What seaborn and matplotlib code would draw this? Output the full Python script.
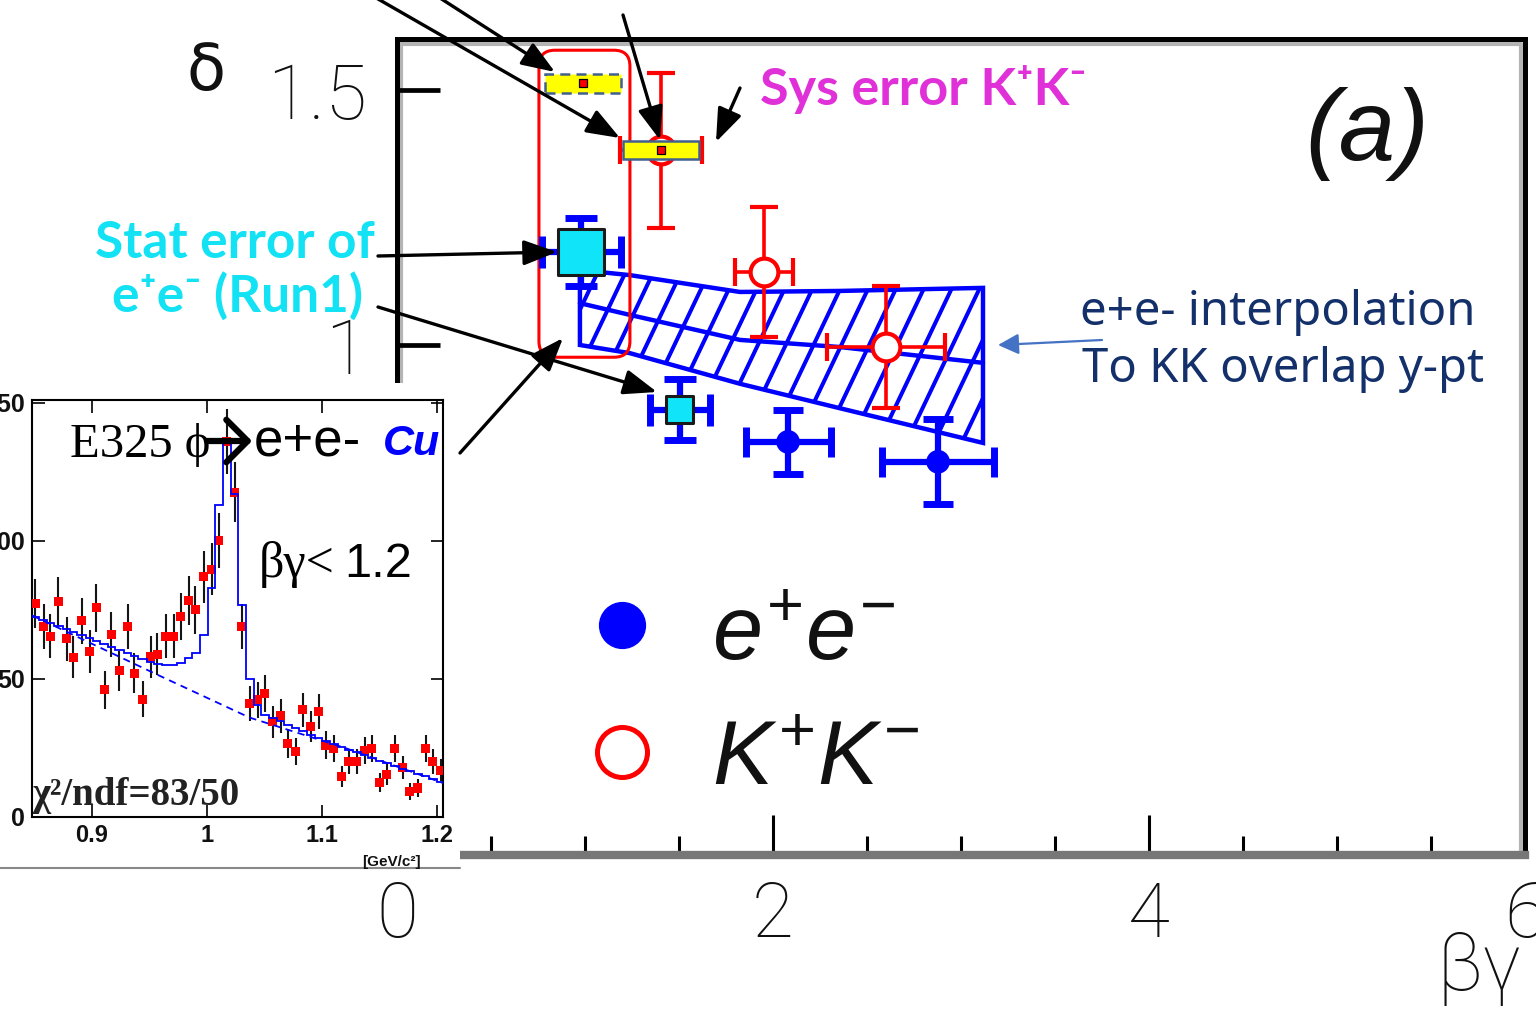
import numpy as np
import matplotlib
matplotlib.use("Agg")
import matplotlib.pyplot as plt
from matplotlib.patches import Rectangle, Polygon, FancyBboxPatch, FancyArrowPatch
from matplotlib.lines import Line2D
from matplotlib.transforms import IdentityTransform
import seaborn as sns

# ---------------- data ----------------
# main panel: delta vs beta*gamma
ee_bg = [2.080, 2.878]
ee_delta = [0.810, 0.771]
ee_xerr = [0.226, 0.298]
ee_yerr = [0.062, 0.083]

kk_bg = [1.404, 1.952, 2.601]
kk_delta = [1.382, 1.143, 0.996]
kk_xerr = [0.218, 0.154, 0.314]
kk_yerr = [0.152, 0.128, 0.120]

run1_bg = [0.979, 1.505]
run1_delta = [1.182, 0.873]
run1_xerr = [0.210, 0.160]
run1_yerr = [0.067, 0.060]

sys_bg = [0.989, 1.404]
sys_delta = [1.513, 1.382]
sys_xerr = [0.202, 0.202]
sys_yerr = [0.019, 0.018]

band_bg = [0.973, 1.239, 1.824, 2.356, 3.117]
band_hi = [1.147, 1.137, 1.104, 1.106, 1.112]
band_mid = [1.082, 1.059, 1.010, 0.996, 0.965]
band_lo = [1.000, 0.984, 0.924, 0.876, 0.808]

x_major = [0, 2, 4, 6]
x_major_labels = ['0', '2', '4', '6']
x_minor = [0.5, 1, 1.5, 2.5, 3, 3.5, 4.5, 5, 5.5]
y_major = [0.5, 1.0, 1.5]
y_major_labels = ['0.5', '1', '1.5']

# inset: phi -> e+e- invariant mass spectrum
phi_mass = [0.851, 0.858, 0.864, 0.871, 0.878, 0.884, 0.891, 0.898, 0.904, 0.911,
            0.917, 0.924, 0.931, 0.937, 0.944, 0.951, 0.957, 0.964, 0.971, 0.977,
            0.984, 0.990, 0.997, 1.004, 1.010, 1.017, 1.024, 1.030, 1.037, 1.044,
            1.050, 1.057, 1.064, 1.070, 1.077, 1.083, 1.090, 1.097, 1.103, 1.110,
            1.117, 1.123, 1.130, 1.137, 1.143, 1.150, 1.156, 1.163, 1.170, 1.176,
            1.183, 1.190, 1.196, 1.203]
phi_counts = [77.3, 69.0, 65.5, 78.0, 64.5, 57.8, 71.0, 60.0, 75.8, 46.0,
              66.0, 53.0, 69.0, 52.0, 42.7, 58.0, 59.0, 65.5, 65.5, 72.7,
              78.4, 75.0, 87.0, 89.7, 100.0, 136.0, 117.6, 69.0, 41.0, 42.4,
              44.8, 34.5, 36.6, 26.7, 23.6, 38.8, 32.7, 38.2, 26.0, 24.8,
              14.5, 20.0, 20.0, 24.0, 24.8, 12.4, 15.4, 24.8, 17.8, 9.3,
              10.5, 24.8, 20.0, 17.0]
phi_fit = [72.5, 71.4, 70.3, 69.2, 68.1, 67.0, 65.9, 64.8, 63.7, 62.6,
           61.5, 60.4, 59.3, 58.2, 57.1, 56.2, 55.4, 55.2, 55.2, 55.6,
           57.6, 59.4, 66.0, 83.0, 113.0, 136.0, 117.0, 76.6, 50.0, 40.6,
           37.0, 35.8, 34.6, 33.4, 32.2, 31.0, 29.8, 28.7, 27.6, 26.5,
           25.4, 24.4, 23.4, 22.4, 21.4, 20.4, 19.4, 18.5, 17.5, 16.6,
           15.6, 14.7, 13.7, 12.8]
bkg_mass = [0.848, 0.957, 1.037, 1.120, 1.205]
bkg_counts = [73.0, 51.5, 36.0, 25.0, 12.3]
inset_xticks = [0.9, 1.0, 1.1, 1.2]
inset_xlabels = ['0.9', '1', '1.1', '1.2']
inset_yticks = [0, 50, 100, 150]
inset_ylabels = ['0', '50', '100', '150']

# ---------------- style ----------------
sns.set_theme(style="white")
plt.rcParams['font.family'] = ['DejaVu Sans']
plt.rcParams['mathtext.fontset'] = 'custom'
plt.rcParams['mathtext.it'] = 'Liberation Sans:italic'
plt.rcParams['mathtext.rm'] = 'Liberation Sans'
plt.rcParams['mathtext.bf'] = 'Liberation Sans:bold'

W, H = 1536, 1017
fig = plt.figure(figsize=(W / 100, H / 100), dpi=100)
fig.patch.set_facecolor('white')


def P(x, y):
    """top-left pixel position -> display pixels"""
    return (x, H - y)


# ---------------- main axes ----------------
ax = fig.add_axes([397 / W, 1 - 855 / H, (1525 - 397) / W, (855 - 39) / H], zorder=1)
ax.set_xlim(0, 6)
ax.set_ylim(0, 1.6)
ax.set_facecolor('white')
for s in ['left', 'top', 'right']:
    ax.spines[s].set_color('black')
    ax.spines[s].set_linewidth(3.6)
ax.spines['bottom'].set_color('#777777')
ax.spines['bottom'].set_linewidth(6)

ax.set_xticks(x_major, x_major_labels, fontfamily='Roboto', fontweight='light',
              fontsize=55, color='#111111')
ax.set_xticks(x_minor, minor=True)
ax.set_yticks(y_major, y_major_labels, fontfamily='Roboto', fontweight='light',
              fontsize=55, color='#111111')
ax.tick_params(axis='x', which='major', bottom=True, direction='in', length=29,
               width=2.2, color='black', pad=18)
ax.tick_params(axis='x', which='minor', bottom=True, direction='in', length=14,
               width=2.2, color='black')
ax.tick_params(axis='y', which='major', left=True, direction='in', length=31,
               width=3.4, color='black', pad=22)

# gray shading along the frame (under ticks)
for xs, ys in [([401, 401], [H - 855, H - 44]),
               ([401, 1521], [H - 44, H - 44]),
               ([1521, 1521], [H - 851, H - 44])]:
    ax.add_artist(Line2D(xs, ys, transform=IdentityTransform(), color='#b4b4b4',
                         lw=3, zorder=0.5, clip_on=False))

# hatched e+e- interpolation band
verts = list(zip(band_bg, band_hi)) + list(zip(band_bg[::-1], band_lo[::-1]))
band = Polygon(verts, closed=True, facecolor='none', edgecolor='blue', lw=3.2, zorder=3)
ax.add_patch(band)
ax.plot(band_bg, band_mid, color='blue', lw=3.2, zorder=3)
slope = 2.1 * 188 / 510
for c in np.arange(0.2, 3.4, 0.148):
    ln, = ax.plot([c, c + 0.8], [0.7, 0.7 + 0.8 * slope], color='blue', lw=2.9, zorder=3)
    ln.set_clip_path(band)

# K+K- points
ax.errorbar(kk_bg, kk_delta, xerr=kk_xerr, yerr=kk_yerr, fmt='o', color='red',
            ms=20, mfc='white', mec='red', mew=3, elinewidth=2.6, capsize=10,
            capthick=2.6, zorder=5)

# e+e- points
ax.errorbar(ee_bg, ee_delta, xerr=ee_xerr, yerr=ee_yerr, fmt='none', ecolor='blue',
            elinewidth=4.5, capsize=11, capthick=5, zorder=5)
sns.scatterplot(x=ee_bg, y=ee_delta, ax=ax, color='blue', s=17 ** 2, marker='o',
                edgecolor='none', zorder=6, legend=False)

# e+e- Run1 stat-error points
ax.errorbar(run1_bg, run1_delta, xerr=run1_xerr, yerr=run1_yerr, fmt='none',
            ecolor='blue', elinewidth=4.5, capsize=11.5, capthick=5, zorder=5)
ax.scatter(run1_bg, run1_delta, marker='s', s=[33 ** 2, 19.5 ** 2], c='#10E4F8',
           edgecolors='#1a1a1a', linewidths=2.2, zorder=7)

# systematic error boxes
for i, (x, y, dx, dy) in enumerate(zip(sys_bg, sys_delta, sys_xerr, sys_yerr)):
    ax.add_patch(Rectangle((x - dx, y - dy), 2 * dx, 2 * dy, facecolor='#FFFF00',
                           edgecolor='#41608F', lw=1.8,
                           ls=(0, (4, 2.5)) if i == 0 else '-', zorder=8))
ax.scatter(sys_bg, sys_delta, marker='s', s=6 ** 2, c='red', edgecolors='black',
           linewidths=0.9, zorder=9)

# red rounded selection box
x0p, y0p = ax.transData.transform((0.755, 0.976))
x1p, y1p = ax.transData.transform((1.239, 1.578))
ax.add_patch(FancyBboxPatch((x0p, y0p), x1p - x0p, y1p - y0p,
                            boxstyle='round,pad=0,rounding_size=16',
                            transform=IdentityTransform(), facecolor='none',
                            edgecolor='red', lw=2.2, zorder=4))

# legend markers + labels
ax.plot([1.197], [0.451], 'o', ms=33, color='blue', mec='blue', zorder=6)
ax.plot([1.197], [0.202], 'o', ms=36, mfc='white', mec='red', mew=3.6, zorder=6)
fig.text(712 / W, 1 - 660 / H, r'$e^{+}e^{-}$', fontsize=65, color='#111111',
         ha='left', va='baseline')
fig.text(712 / W, 1 - 785 / H, r'$K^{+}K^{-}$', fontsize=65, color='#111111',
         ha='left', va='baseline')

# axis titles / panel label
fig.text(206 / W, 1 - 72 / H, 'δ', fontsize=46, color='#111111', ha='center',
         va='center', fontfamily='DejaVu Sans')
fig.text(1437 / W, 1 - 968 / H, 'βγ', fontsize=57, color='#111111', ha='left',
         va='center', fontfamily='Roboto', fontweight='light')
fig.text(1367 / W, 1 - 160 / H, '(a)', fontsize=73, color='#111111', ha='center',
         va='baseline', fontfamily='Liberation Sans', fontstyle='italic')

# annotation texts
fig.text(760 / W, 1 - 105 / H, 'Sys error K⁺K⁻', fontsize=37.5, color='#E030D8',
         fontweight='bold', fontfamily=['Lato', 'DejaVu Sans'], ha='left', va='baseline')
fig.text(235 / W, 1 - 258 / H, 'Stat error of', fontsize=37, color='#12E2F4',
         fontweight='bold', fontfamily=['Lato', 'DejaVu Sans'], ha='center', va='baseline')
fig.text(237 / W, 1 - 312 / H, 'e⁺e⁻ (Run1)', fontsize=37, color='#12E2F4',
         fontweight='bold', fontfamily=['Lato', 'DejaVu Sans'], ha='center', va='baseline')
fig.text(1080 / W, 1 - 325 / H, 'e+e- interpolation', fontsize=34, color='#13306A',
         fontweight='light', fontfamily='Noto Sans', ha='left', va='baseline')
fig.text(1082 / W, 1 - 382 / H, 'To KK overlap y-pt', fontsize=34, color='#13306A',
         fontweight='light', fontfamily='Noto Sans', ha='left', va='baseline')


# arrows
def arrow(a, b, color='black', lw=2.4, hl=0.85, hw=0.32, ms=24, style='-|>', z=10):
    fig.add_artist(FancyArrowPatch(P(*a), P(*b), transform=IdentityTransform(),
                                   arrowstyle=f'{style},head_length={hl},head_width={hw}',
                                   mutation_scale=ms, color=color, lw=lw,
                                   shrinkA=0, shrinkB=0, zorder=z))


arrow((345, -20), (620, 138))
arrow((412, -20), (555, 72))
arrow((623, 15), (660, 140))
arrow((740, 88), (716, 142))
arrow((378, 256), (557, 252))
arrow((378, 307), (657, 392))
arrow((460, 453), (563, 338))
arrow((1102, 340), (998, 345), color='#4472C4', lw=1.6, hl=0.7, hw=0.35, ms=18)

# ---------------- inset (pasted spectrum) ----------------
fig.add_artist(Rectangle((0, 1 - 870 / H), 460 / W, (870 - 383) / H,
                         transform=fig.transFigure, facecolor='white',
                         edgecolor='none', zorder=2))
fig.add_artist(Line2D([0, 460], [H - 868, H - 868], transform=IdentityTransform(),
                      color='#888888', lw=1.5, zorder=2.5))

ax2 = fig.add_axes([32 / W, 1 - 817 / H, 411 / W, 417 / H], zorder=3)
ax2.set_facecolor('none')
ax2.set_xlim(0.848, 1.205)
ax2.set_ylim(0, 151)
for s in ax2.spines.values():
    s.set_color('black')
    s.set_linewidth(1.5)

m = np.asarray(phi_mass)
half = (m[1] - m[0]) / 2
edges = np.concatenate([[m[0] - half], (m[:-1] + m[1:]) / 2, [m[-1] + half]])
ax2.errorbar(phi_mass, phi_counts, yerr=np.sqrt(phi_counts), fmt='none',
             ecolor='#151515', elinewidth=1.5, capsize=0, zorder=2)
sns.scatterplot(x=phi_mass, y=phi_counts, ax=ax2, marker='s', s=6.5 ** 2,
                color='red', edgecolor='none', zorder=3, legend=False)
ax2.stairs(phi_fit, edges, baseline=0, color='blue', lw=1.3, zorder=4)
ax2.plot(bkg_mass, bkg_counts, color='blue', lw=1.3, ls=(0, (4, 3)), zorder=4)

ax2.set_xticks(inset_xticks, inset_xlabels, fontfamily='Liberation Sans',
               fontweight='bold', fontsize=17, color='#111111')
ax2.set_yticks(inset_yticks, inset_ylabels, fontfamily='Liberation Sans',
               fontweight='bold', fontsize=18, color='#111111')
ax2.tick_params(axis='both', which='major', direction='in', length=9, width=1.2,
                bottom=True, left=True, top=True, right=True, pad=5, color='black')

# inset texts
fig.text(70 / W, 1 - 457 / H, 'E325 ϕ', fontsize=35, color='black',
         fontfamily='Liberation Serif', ha='left', va='baseline', zorder=5)
arrow((207, 441), (252, 441), lw=4.5, hl=0.45, hw=0.45, ms=34, style='->', z=6)
fig.text(254 / W, 1 - 455 / H, 'e+e-', fontsize=38, color='black',
         fontfamily='Liberation Sans', ha='left', va='baseline', zorder=5)
fig.text(383 / W, 1 - 455 / H, 'Cu', fontsize=31, color='#0000FF', fontweight='bold',
         fontstyle='italic', fontfamily='Liberation Sans', ha='left', va='baseline', zorder=5)
fig.text(259 / W, 1 - 577 / H, 'βγ<', fontsize=36, color='black',
         fontfamily='Liberation Serif', ha='left', va='baseline', zorder=5)
fig.text(344 / W, 1 - 577 / H, '1.2', fontsize=35, color='black',
         fontfamily='Liberation Sans', ha='left', va='baseline', zorder=5)
fig.text(32 / W, 1 - 805 / H, 'χ²/ndf=83/50', fontsize=28, color='#222222',
         fontweight='bold', fontfamily='Liberation Serif', ha='left', va='baseline', zorder=5)
fig.text(362 / W, 1 - 866 / H, '[GeV/c²]', fontsize=11, color='#111111',
         fontweight='bold', fontfamily='Liberation Sans', ha='left', va='baseline', zorder=5)

fig.savefig('out.png', dpi=100, facecolor='white')
